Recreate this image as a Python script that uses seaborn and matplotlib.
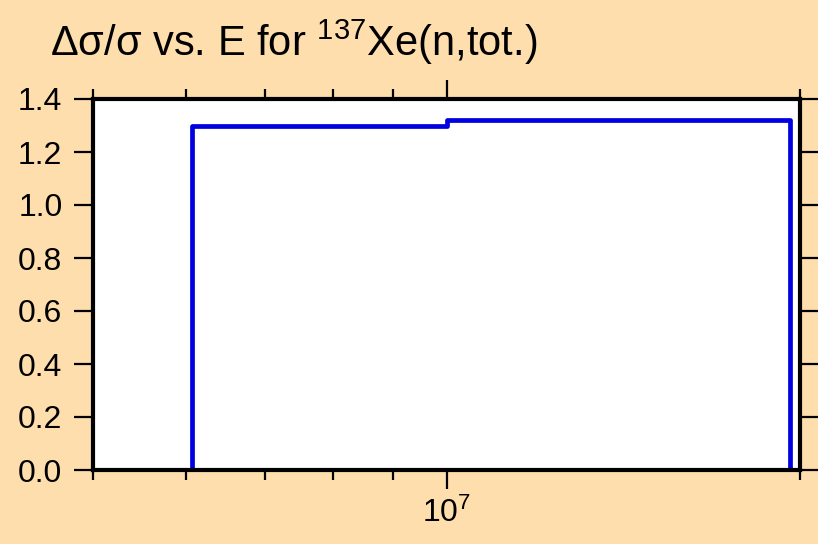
import numpy as np
import pandas as pd
import matplotlib
matplotlib.use("Agg")
import matplotlib.pyplot as plt
import matplotlib.ticker as mticker
import seaborn as sns

# datos
bin_edges = [6.07e6, 1.0e7, 1.96e7]   # energia (eV)
rel_unc = [1.30, 1.32]                # delta sigma / sigma
y_ticks = [0.0, 0.2, 0.4, 0.6, 0.8, 1.0, 1.2, 1.4]
x_limits = [5e6, 2e7]
minor_x = [5e6, 6e6, 7e6, 8e6, 9e6, 2e7]

# tabla para el escalon (steps-post)
step_x = [bin_edges[0]] + bin_edges + [bin_edges[-1]]
step_y = [0.0] + rel_unc + [rel_unc[-1], 0.0]
df = pd.DataFrame({"E": step_x, "unc": step_y})

sns.set_style("ticks")
plt.rcParams["font.family"] = ["Liberation Sans", "DejaVu Sans"]
plt.rcParams["mathtext.fontset"] = "custom"
plt.rcParams["mathtext.rm"] = "Liberation Sans"
plt.rcParams["mathtext.it"] = "Liberation Sans"
plt.rcParams["text.color"] = "black"
plt.rcParams["xtick.color"] = "black"
plt.rcParams["ytick.color"] = "black"

bg = "#FFDEAD"
fig = plt.figure(figsize=(8.18, 5.44), dpi=100, facecolor=bg)
ax = fig.add_axes([93 / 818, 1 - 470 / 544, 707 / 818, 371 / 544])
ax.set_facecolor("white")

sns.lineplot(data=df, x="E", y="unc", ax=ax, estimator=None, sort=False,
             drawstyle="steps-post", color="#0000e0", linewidth=3.4)

ax.set_xscale("log")
ax.set_xlim(x_limits)
ax.set_ylim(0, 1.4)
ax.set_yticks(y_ticks)
ax.yaxis.set_major_formatter(mticker.FormatStrFormatter("%.1f"))
ax.xaxis.set_major_locator(mticker.FixedLocator([1e7]))
ax.xaxis.set_major_formatter(mticker.LogFormatterMathtext())
ax.xaxis.set_minor_locator(mticker.FixedLocator(minor_x))
ax.xaxis.set_minor_formatter(mticker.NullFormatter())
ax.set_xlabel("")
ax.set_ylabel("")

for s in ax.spines.values():
    s.set_visible(True)
    s.set_linewidth(3.0)
    s.set_color("black")

ax.tick_params(axis="both", which="major", direction="out", length=14, width=1.6,
               labelsize=23, pad=6, top=True, right=True,
               colors="black", labelcolor="black")
ax.tick_params(axis="x", which="minor", direction="out", length=7, width=1.6,
               top=True, colors="black")
ax.tick_params(axis="y", which="major", pad=8)

fig.text(50 / 818, 1 - 56 / 544, "Δσ/σ vs. E for $^{137}$Xe(n,tot.)",
         fontsize=30, ha="left", va="baseline", color="black")

fig.savefig("out.png", dpi=100, facecolor=bg)
